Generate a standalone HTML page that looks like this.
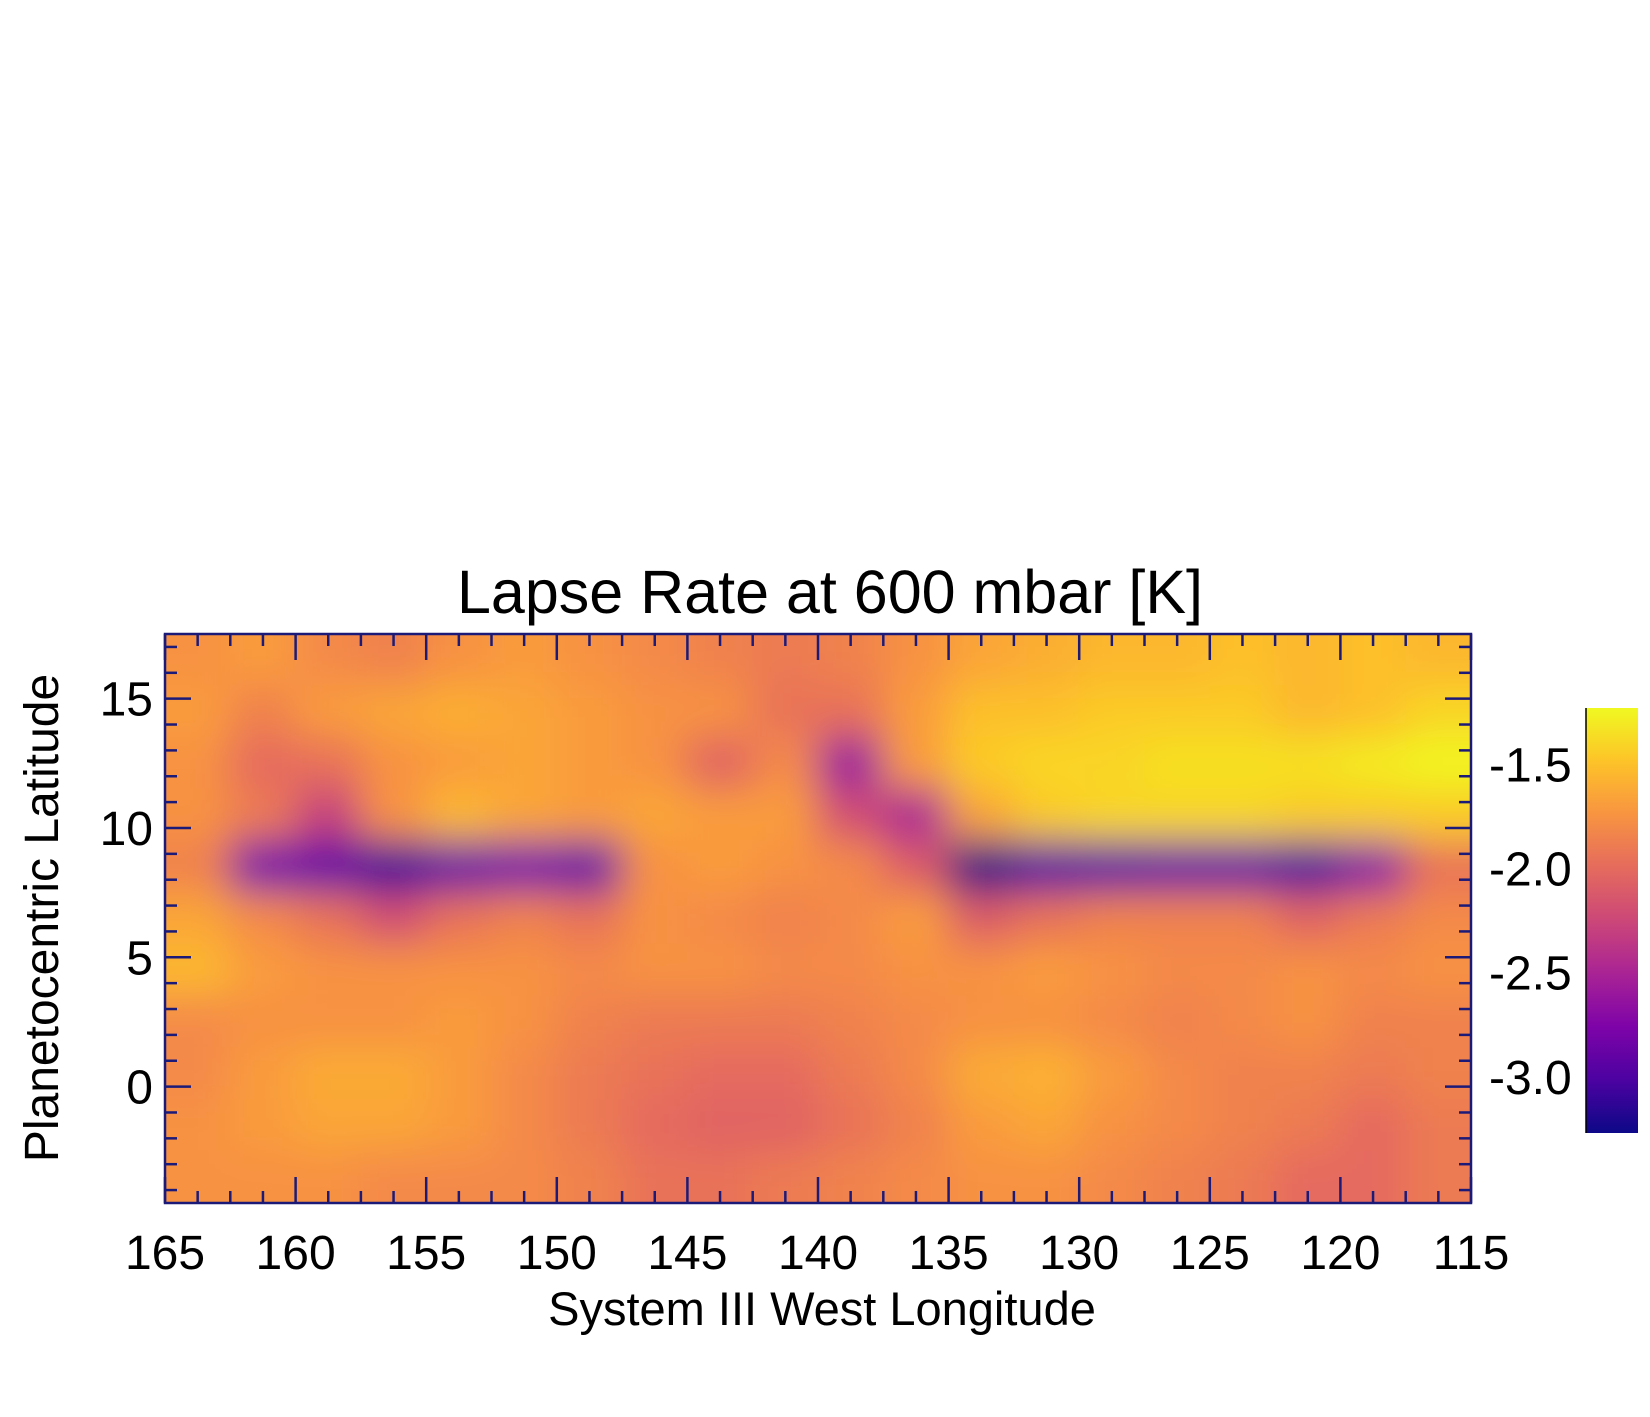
<!DOCTYPE html>
<html><head><meta charset="utf-8"><style>
html,body{margin:0;padding:0;background:#fff;}
svg{display:block;font-family:"Liberation Sans",sans-serif;}
</style></head><body>
<svg id="chart" width="1650" height="1417" viewBox="0 0 1650 1417">
<defs>
<filter id="blur" x="-20%" y="-20%" width="140%" height="140%"><feGaussianBlur stdDeviation="20"/></filter>
<clipPath id="plotclip"><rect x="165" y="634" width="1306" height="569"/></clipPath>
<linearGradient id="cbgrad" x1="0" y1="1" x2="0" y2="0">
<stop offset="0" stop-color="#0d0887"/><stop offset="0.125" stop-color="#4c02a1"/><stop offset="0.25" stop-color="#7e03a8"/><stop offset="0.375" stop-color="#a92395"/><stop offset="0.5" stop-color="#cc4778"/><stop offset="0.625" stop-color="#e56b5d"/><stop offset="0.75" stop-color="#f89441"/><stop offset="0.875" stop-color="#fdc328"/><stop offset="1" stop-color="#f0f921"/>
</linearGradient>
</defs>
<text x="830" y="613" font-size="61" text-anchor="middle">Lapse Rate at 600 mbar [K]</text>
<g clip-path="url(#plotclip)"><g id="cells" filter="url(#blur)"></g></g>
<g id="axes"></g>
<text x="822" y="1325" font-size="47" text-anchor="middle">System III West Longitude</text>
<text transform="translate(58,918) rotate(-90)" font-size="48" text-anchor="middle">Planetocentric Latitude</text>
<rect x="1586" y="708" width="52" height="425" fill="url(#cbgrad)"/>
<line x1="1586" y1="708" x2="1586" y2="1133" stroke="#000" stroke-width="1.5"/>
<g id="cbticks"></g>
</svg>
<script>
const lons=[163.75,161.25,158.75,156.25,153.75,151.25,148.75,146.25,143.75,141.25,138.75,136.25,133.75,131.25,128.75,126.25,123.75,121.25,118.75,116.25];
const lats=[16.5,14.5,12.5,10.5,8.5,6.5,4.5,2.5,0.5,-1.5,-3.5];
const row0=[-1.75,-1.7,-1.8,-1.85,-1.75,-1.7,-1.75,-1.8,-1.85,-1.9,-1.85,-1.75,-1.65,-1.6,-1.55,-1.55,-1.5,-1.55,-1.5,-1.55];
const row1=[-1.7,-1.85,-1.7,-1.65,-1.6,-1.65,-1.7,-1.75,-1.75,-1.95,-1.95,-1.7,-1.5,-1.5,-1.45,-1.45,-1.45,-1.55,-1.5,-1.4];
const row2=[-1.75,-2.0,-1.95,-1.75,-1.7,-1.65,-1.7,-1.75,-2.05,-1.8,-2.6,-1.7,-1.45,-1.4,-1.4,-1.35,-1.35,-1.35,-1.3,-1.25];
const row3=[-1.75,-1.9,-2.3,-1.75,-1.55,-1.65,-1.7,-1.65,-1.7,-1.7,-2.2,-2.5,-1.65,-1.45,-1.4,-1.4,-1.4,-1.45,-1.45,-1.45];
const row4=[-1.85,-2.8,-2.9,-3.1,-2.9,-2.8,-2.9,-1.75,-1.7,-1.75,-1.8,-2.1,-3.3,-3.0,-2.95,-2.9,-2.9,-3.05,-2.7,-1.95];
const row5=[-1.65,-1.8,-1.95,-2.2,-1.95,-1.85,-1.95,-1.75,-1.8,-1.85,-1.8,-1.7,-2.1,-1.95,-1.85,-1.85,-1.85,-2.05,-1.9,-1.8];
const row6=[-1.55,-1.7,-1.75,-1.75,-1.75,-1.75,-1.8,-1.75,-1.75,-1.8,-1.8,-1.75,-1.75,-1.7,-1.75,-1.8,-1.8,-1.75,-1.8,-1.75];
const row7=[-1.8,-1.75,-1.75,-1.75,-1.7,-1.75,-1.85,-1.9,-1.9,-1.9,-1.85,-1.8,-1.75,-1.75,-1.8,-1.85,-1.8,-1.75,-1.85,-1.85];
const row8=[-1.8,-1.7,-1.62,-1.62,-1.7,-1.8,-1.9,-1.95,-2.0,-2.0,-1.9,-1.8,-1.62,-1.58,-1.7,-1.8,-1.85,-1.85,-1.9,-1.85];
const row9=[-1.75,-1.7,-1.65,-1.65,-1.7,-1.8,-1.9,-2.0,-2.05,-2.05,-1.95,-1.85,-1.7,-1.65,-1.75,-1.8,-1.85,-1.9,-2.0,-1.9];
const row10=[-1.75,-1.75,-1.75,-1.8,-1.8,-1.8,-1.85,-1.95,-1.95,-1.9,-1.85,-1.8,-1.75,-1.75,-1.8,-1.85,-1.9,-2.0,-2.0,-1.9];
const grid=[row0,row1,row2,row3,row4,row5,row6,row7,row8,row9,row10];
const xTicks=[165,160,155,150,145,140,135,130,125,120,115];
const yTicks=[0,5,10,15];
const cbTicks=[-1.5,-2.0,-2.5,-3.0];
const cbLabels=["-1.5","-2.0","-2.5","-3.0"];

const L=165,R=1471,T=634,B=1203,LON0=165,LON1=115,LAT0=-4.5,LAT1=17.5;
const xs=lon=>L+(LON0-lon)/(LON0-LON1)*(R-L);
const ys=lat=>B-(lat-LAT0)/(LAT1-LAT0)*(B-T);
const VMIN=-3.27,VMAX=-1.23,CBT=708,CBB=1133;
const cbY=v=>CBB-(v-VMIN)/(VMAX-VMIN)*(CBB-CBT);
const stops=[[13,8,135],[76,2,161],[126,3,168],[169,35,149],[204,71,120],[229,107,93],[248,148,65],[253,195,40],[240,249,33]];
function cmap(v){let t=Math.max(0,Math.min(1,(v-VMIN)/(VMAX-VMIN)))*8;let i=Math.min(7,Math.floor(t)),f=t-i;
const a=stops[i],b=stops[i+1];return `rgb(${a.map((c,k)=>Math.round(c+(b[k]-c)*f)).join(',')})`;}
const NS="http://www.w3.org/2000/svg";
const cells=document.getElementById('cells');
const dLon=2.5,dLat=2;
lats.forEach((lat,r)=>lons.forEach((lon,c)=>{
  let x0=xs(lon+dLon/2),x1=xs(lon-dLon/2),y0=ys(lat+dLat/2),y1=ys(lat-dLat/2);
  if(c===0)x0-=80; if(c===lons.length-1)x1+=80; if(r===0)y0-=80; if(r===lats.length-1)y1+=80;
  const el=document.createElementNS(NS,'rect');
  el.setAttribute('x',x0-0.5);el.setAttribute('y',y0-0.5);el.setAttribute('width',x1-x0+1);el.setAttribute('height',y1-y0+1);
  el.setAttribute('fill',cmap(grid[r][c]));
  
  
  cells.appendChild(el);
}));
const axes=document.getElementById('axes');
const col='#1c1a78';
function line(x1,y1,x2,y2,w,name){const el=document.createElementNS(NS,'line');
el.setAttribute('x1',x1);el.setAttribute('y1',y1);el.setAttribute('x2',x2);el.setAttribute('y2',y2);
el.setAttribute('stroke',col);el.setAttribute('stroke-width',w);


axes.appendChild(el);}
const fr=document.createElementNS(NS,'rect');
fr.setAttribute('x',L);fr.setAttribute('y',T);fr.setAttribute('width',R-L);fr.setAttribute('height',B-T);
fr.setAttribute('fill','none');fr.setAttribute('stroke',col);fr.setAttribute('stroke-width',2.5);


axes.appendChild(fr);
for(let lon=165;lon>=115-0.01;lon-=1.25){const x=xs(lon);const maj=Math.abs(lon/5-Math.round(lon/5))<1e-6;const len=maj?26:12;
line(x,B,x,B-len,2.5,'x-tick');line(x,T,x,T+len,2.5,'x-tick-top');}
for(let lat=-4;lat<=17;lat+=1){const y=ys(lat);const maj=lat%5===0;const len=maj?26:12;
line(L,y,L+len,y,2.5,'y-tick');line(R,y,R-len,y,2.5,'y-tick-right');}
function text(x,y,s,anchor,name,size){const el=document.createElementNS(NS,'text');
el.setAttribute('x',x);el.setAttribute('y',y);el.setAttribute('font-size',size);el.setAttribute('text-anchor',anchor);
el.textContent=s;


axes.appendChild(el);}
xTicks.forEach(v=>text(xs(v),1269,String(v),'middle','x-tick-label',48));
yTicks.forEach(v=>text(153,ys(v)+17,String(v),'end','y-tick-label',48));
cbTicks.forEach((v,i)=>text(1489,cbY(v)+17,cbLabels[i],'start','colorbar-tick-label',48));
</script>
</body></html>
